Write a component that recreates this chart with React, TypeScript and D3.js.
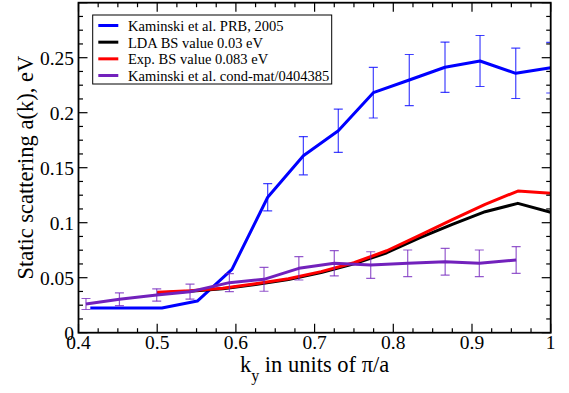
import React from "react";
import * as d3 from "d3";

// ---- data ----
const blueK = [0.415, 0.506, 0.551, 0.595, 0.6404, 0.6857, 0.7301, 0.7746, 0.8203, 0.8657, 0.9102, 0.9556, 1.0];
const blueA = [0.0225, 0.0225, 0.0288, 0.0576, 0.1231, 0.1609, 0.1836, 0.2182, 0.2297, 0.2413, 0.247, 0.2358, 0.2409];
const blueErr = [0, 0, 0, 0, 0.0124, 0.0174, 0.0197, 0.023, 0.0232, 0.0229, 0.0232, 0.0229, 0.023];

const bsK = [0.5, 0.5417, 0.5833, 0.625, 0.6667, 0.7083, 0.75, 0.7917, 0.8333, 0.875, 0.9167, 0.9583, 1.0];
const ldaA = [0.036, 0.0377, 0.0399, 0.0439, 0.0483, 0.0546, 0.0626, 0.0727, 0.0862, 0.0985, 0.11, 0.1176, 0.1095];
const expA = [0.0367, 0.0382, 0.0404, 0.0445, 0.049, 0.0555, 0.0636, 0.0745, 0.0885, 0.1028, 0.1167, 0.1288, 0.1267];

const condK = [0.4095, 0.452, 0.4994, 0.5417, 0.5917, 0.6357, 0.68, 0.725, 0.7713, 0.8183, 0.8659, 0.9093, 0.9561];
const condA = [0.0261, 0.0304, 0.0343, 0.0373, 0.0455, 0.0485, 0.0585, 0.0631, 0.0615, 0.0631, 0.0645, 0.0631, 0.0661];
const condErr = [0.005, 0.0058, 0.0056, 0.0068, 0.0082, 0.0108, 0.0106, 0.0115, 0.0121, 0.0121, 0.0121, 0.0121, 0.0121];

const xTickValues = [0.4, 0.5, 0.6, 0.7, 0.8, 0.9, 1.0];
const xTickLabels = ["0.4", "0.5", "0.6", "0.7", "0.8", "0.9", "1"];
const yTickValues = [0, 0.05, 0.1, 0.15, 0.2, 0.25, 0.3];
const yTickLabels = ["0", "0.05", "0.1", "0.15", "0.2", "0.25", ""];

const legendNames = [
  "Kaminski et al. PRB, 2005",
  "LDA BS value 0.03 eV",
  "Exp. BS value 0.083 eV",
  "Kaminski et al. cond-mat/0404385",
];
const colors = ["#0000ff", "#000000", "#ff0000", "#7221bc"];

// ---- layout ----
const W = 569;
const H = 393;
const left = 78.5;
const right = 550.7;
const top = 2.7;
const bottom = 332.7;
const fontStyle = { fontFamily: "Liberation Serif" };

const x = d3.scaleLinear().domain([0.4, 1.0]).range([left, right]);
const y = d3.scaleLinear().domain([0, 0.3]).range([bottom, top]);

type Pt = { k: number; a: number; e: number };
const zipPts = (ks: number[], as: number[], es?: number[]): Pt[] =>
  ks.map((k, i) => ({ k, a: as[i], e: es ? es[i] : 0 }));

const line = d3
  .line<Pt>()
  .x((d) => x(d.k))
  .y((d) => y(d.a));

const series = [
  { pts: zipPts(blueK, blueA, blueErr), color: colors[0] },
  { pts: zipPts(bsK, ldaA), color: colors[1] },
  { pts: zipPts(bsK, expA), color: colors[2] },
  { pts: zipPts(condK, condA, condErr), color: colors[3] },
];

// minor ticks: every 0.025 on x, every 0.0125 on y (skipping the majors)
const xMinor = d3.range(0, 25).filter((i) => i % 4 !== 0).map((i) => 0.4 + i * 0.025);
const yMinor = d3.range(0, 25).filter((i) => i % 4 !== 0).map((i) => i * 0.0125);

function ErrorBars({ pts, color }: { pts: Pt[]; color: string }) {
  const cap = 4.5;
  return (
    <g stroke={color} strokeWidth={1.2} strokeOpacity={0.75} fill="none">
      {pts
        .filter((d) => d.e > 0)
        .map((d, i) => {
          const cx = x(d.k);
          const y1 = y(d.a + d.e);
          const y2 = y(d.a - d.e);
          return (
            <g key={i}>
              <line x1={cx} x2={cx} y1={y1} y2={y2} />
              <line x1={cx - cap} x2={cx + cap} y1={y1} y2={y1} />
              <line x1={cx - cap} x2={cx + cap} y1={y2} y2={y2} />
            </g>
          );
        })}
    </g>
  );
}

export default function App() {
  const majorLen = 9;
  const minorLen = 4.5;
  return (
    <svg width={W} height={H} style={{ position: "absolute", left: 0, top: 0, background: "#fff" }}>
      <defs>
        <clipPath id="plotClip">
          <rect x={left} y={top} width={right - left} height={bottom - top} />
        </clipPath>
      </defs>
      <rect x={0} y={0} width={W} height={H} fill="#fff" />

      {/* data */}
      <g clipPath="url(#plotClip)">
        {series.map((s, i) => (
          <g key={i}>
            <ErrorBars pts={s.pts} color={s.color} />
            <path d={line(s.pts) || ""} fill="none" stroke={s.color} strokeWidth={3} strokeLinejoin="round" />
          </g>
        ))}
      </g>

      {/* ticks on all four sides, pointing inward */}
      <g stroke="#000" strokeWidth={1.2}>
        {xTickValues.map((v, i) => (
          <g key={"xm" + i}>
            <line x1={x(v)} x2={x(v)} y1={bottom} y2={bottom - majorLen} />
            <line x1={x(v)} x2={x(v)} y1={top} y2={top + majorLen} />
          </g>
        ))}
        {xMinor.map((v, i) => (
          <g key={"xn" + i}>
            <line x1={x(v)} x2={x(v)} y1={bottom} y2={bottom - minorLen} />
            <line x1={x(v)} x2={x(v)} y1={top} y2={top + minorLen} />
          </g>
        ))}
        {yTickValues.map((v, i) => (
          <g key={"ym" + i}>
            <line x1={left} x2={left + majorLen} y1={y(v)} y2={y(v)} />
            <line x1={right} x2={right - majorLen} y1={y(v)} y2={y(v)} />
          </g>
        ))}
        {yMinor.map((v, i) => (
          <g key={"yn" + i}>
            <line x1={left} x2={left + minorLen} y1={y(v)} y2={y(v)} />
            <line x1={right} x2={right - minorLen} y1={y(v)} y2={y(v)} />
          </g>
        ))}
      </g>

      {/* frame */}
      <rect x={left} y={top} width={right - left} height={bottom - top} fill="none" stroke="#000" strokeWidth={1.8} />

      {/* tick labels */}
      {xTickValues.map((v, i) => (
        <text key={"xl" + i} x={x(v)} y={349} textAnchor="middle" fontSize={19.5} fill="#000" style={fontStyle}>
          {xTickLabels[i]}
        </text>
      ))}
      {yTickValues.map((v, i) => (
        <text key={"yl" + i} x={74} y={y(v) + 7} textAnchor="end" fontSize={19.5} fill="#000" style={fontStyle}>
          {yTickLabels[i]}
        </text>
      ))}

      {/* axis titles */}
      <text x={(left + right) / 2} y={371.5} textAnchor="middle" fontSize={22.5} fill="#000" style={fontStyle}>
        k
        <tspan fontSize={16} dy={9} style={fontStyle}>y</tspan>
        <tspan dy={-9} style={fontStyle}> in units of π/a</tspan>
      </text>
      <text
        transform={`translate(33, ${(top + bottom) / 2}) rotate(-90)`}
        textAnchor="middle"
        fontSize={22.5}
        fill="#000"
        style={fontStyle}
      >
        Static scattering a(k), eV
      </text>

      {/* legend */}
      <rect x={92.7} y={15} width={239} height={69} fill="#fff" stroke="#000" strokeWidth={1} />
      {legendNames.map((name, i) => {
        const base = 31 + i * 16.67;
        return (
          <g key={"lg" + i}>
            <line x1={98.3} x2={118.3} y1={base - 5.5} y2={base - 5.5} stroke={colors[i]} strokeWidth={3} />
            <text x={128} y={base} fontSize={14.5} fill="#000" style={fontStyle}>
              {name}
            </text>
          </g>
        );
      })}
    </svg>
  );
}
